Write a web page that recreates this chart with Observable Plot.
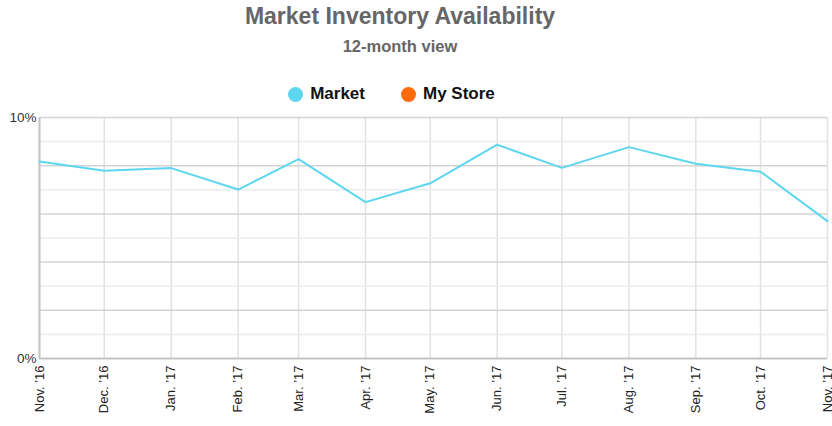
<!DOCTYPE html>
<html>
<head>
<meta charset="utf-8">
<script src="https://cdn.jsdelivr.net/npm/d3@7"></script>
<script src="https://cdn.jsdelivr.net/npm/@observablehq/plot@0.6"></script>
<style>
  body { margin: 0; background: #fff; font-family: "Liberation Sans", Arial, sans-serif; }
  #head { position: relative; width: 832px; height: 100px; }
  #title { position: absolute; left: 0; width: 800px; top: 3px; text-align: center; font-size: 23px; font-weight: bold; color: #666; }
  #subtitle { position: absolute; left: 0; width: 800px; top: 37px; text-align: center; font-size: 16.5px; font-weight: bold; color: #666; }
  #legend { position: absolute; left: 0; width: 783px; top: 84px; display: flex; justify-content: center; gap: 36px; font-size: 17px; font-weight: bold; color: #111; }
  .item { display: flex; align-items: center; gap: 7px; }
  .dot { width: 15px; height: 15px; border-radius: 50%; display: inline-block; }
  svg { display: block; }
</style>
</head>
<body>
<div id="head">
  <div id="title">Market Inventory Availability</div>
  <div id="subtitle">12-month view</div>
  <div id="legend"></div>
</div>
<div id="chart"></div>
<script>
const months = ["2016-11-01","2016-12-01","2017-01-01","2017-02-01","2017-03-01","2017-04-01","2017-05-01","2017-06-01","2017-07-01","2017-08-01","2017-09-01","2017-10-01","2017-11-01"];
const monthLabels = ["Nov. ’16","Dec. ’16","Jan. ’17","Feb. ’17","Mar. ’17","Apr. ’17","May. ’17","Jun. ’17","Jul. ’17","Aug. ’17","Sep. ’17","Oct. ’17","Nov. ’17"];
const market = [8.17, 7.79, 7.90, 7.01, 8.27, 6.49, 7.27, 8.87, 7.91, 8.77, 8.08, 7.75, 5.70];
const myStore = [];
const seriesNames = ["Market", "My Store"];
const seriesColors = ["#5dd6ef", "#ff6a0d"];
const yTicks = [0, 10];
const gridMinor = [1, 3, 5, 7, 9];
const gridMajor = [2, 4, 6, 8, 10];

const parse = d3.utcParse("%Y-%m-%d");
const dates = months.map(parse);
const data = dates.map((d, i) => ({date: d, value: market[i]}));
const labelOf = new Map(dates.map((d, i) => [+d, monthLabels[i]]));

const legend = document.getElementById("legend");
seriesNames.forEach((n, i) => {
  const it = document.createElement("div");
  it.className = "item";
  it.innerHTML = `<span class="dot" style="background:${seriesColors[i]}"></span><span>${n}</span>`;
  legend.appendChild(it);
});

const chart = Plot.plot({
  width: 832,
  height: 326,
  marginTop: 17,
  marginBottom: 68,
  marginLeft: 39,
  marginRight: 5,
  style: {fontFamily: "'Liberation Sans', Arial, sans-serif", background: "#fff"},
  x: {type: "utc", domain: [dates[0], dates[dates.length - 1]]},
  y: {domain: [0, 10]},
  marks: [
    Plot.ruleX(dates, {stroke: "#e2e2e2", strokeWidth: 1.5}),
    Plot.ruleY(gridMinor, {stroke: "#ececec", strokeWidth: 1.5}),
    Plot.ruleY(gridMajor, {stroke: "#d4d4d4", strokeWidth: 1.5}),
    Plot.ruleX([dates[0]], {stroke: "#c4c4c4", strokeWidth: 2}),
    Plot.ruleY([0], {stroke: "#c4c4c4", strokeWidth: 2}),
    Plot.axisY({ticks: yTicks, tickFormat: d => d + "%", tickSize: 0, tickPadding: 3, fontSize: 13.5, color: "#333", label: null}),
    Plot.axisX({ticks: dates, tickFormat: d => labelOf.get(+d), tickSize: 0, tickPadding: 7, tickRotate: -90, fontSize: 13, color: "#222", label: null}),
    Plot.line(data, {x: "date", y: "value", stroke: seriesColors[0], strokeWidth: 2})
  ]
});
document.getElementById("chart").appendChild(chart);
</script>
</body>
</html>
